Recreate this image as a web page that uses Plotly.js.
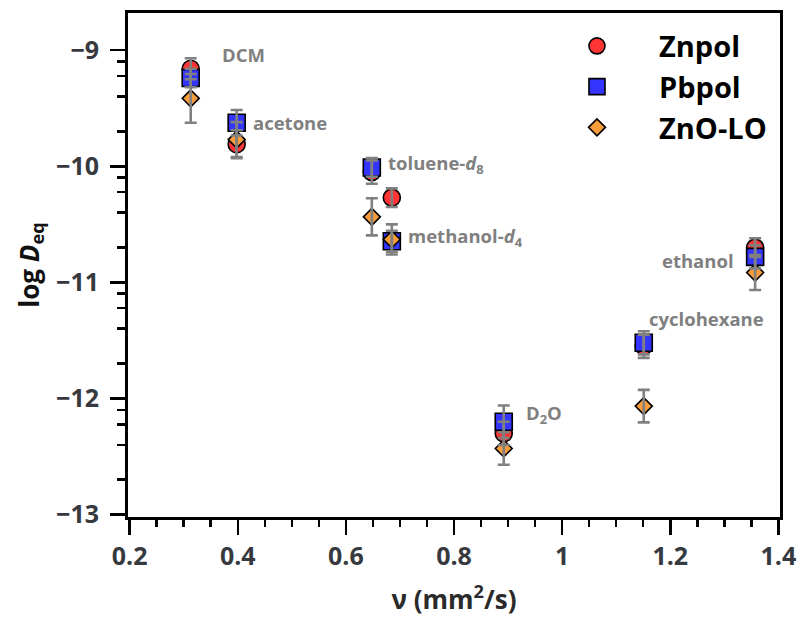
<!DOCTYPE html>
<html><head><meta charset="utf-8">
<script src="https://cdn.plot.ly/plotly-3.0.1.min.js"></script>
<style>html,body{margin:0;padding:0;background:#fff}</style>
</head><body><div id="plot" style="width:799px;height:623px"></div>
<script>
// solvents: DCM, acetone, toluene-d8, methanol-d4, D2O, cyclohexane, ethanol
const solvents = ["DCM","acetone","toluene-d8","methanol-d4","D2O","cyclohexane","ethanol"];
const viscosity = [0.313, 0.398, 0.648, 0.685, 0.892, 1.151, 1.357];
const znpolY   = [-9.16, -9.81, -10.05, -10.27, -12.30, -11.55, -10.70];
const znpolErr = [0.09, 0.12, 0.10, 0.08, 0.10, 0.10, 0.08];
const pbpolY   = [-9.24, -9.625, -10.01, -10.645, -12.20, -11.52, -10.78];
const pbpolErr = [0.08, 0.11, 0.08, 0.09, 0.14, 0.10, 0.10];
const znoY     = [-9.415, -9.77, -10.435, -10.63, -12.43, -12.065, -10.915];
const znoErr   = [0.21, 0.15, 0.16, 0.13, 0.14, 0.14, 0.15];
const xTickVals = [0.2, 0.4, 0.6, 0.8, 1, 1.2, 1.4];
const xTickText = ["0.2","0.4","0.6","0.8","1","1.2","1.4"];
const yTickVals = [-13, -12, -11, -10, -9];
const yTickText = ["\u221213","\u221212","\u221211","\u221210","\u22129"];
const labelText = ["DCM","acetone","toluene-<i>d</i><sub>8</sub>","methanol-<i>d</i><sub>4</sub>","D<sub>2</sub>O","cyclohexane","ethanol"];
const labelX = [0.367, 0.424, 0.674, 0.711, 0.929, 1.378, 1.322];
const labelY = [-9.04, -9.62, -9.98, -10.61, -12.13, -11.31, -10.815];
const labelAnchor = ["left","left","left","left","left","right","right"];

const yMinor = [];
for (let d = -13; d < -9; d++) { [2,4,6,8].forEach(k => yMinor.push(d + Math.log10(k))); }

const errStyle = {color:'#808080', thickness:2.6, width:6};
const lineBlk = {color:'#000', width:1.6};
function markerTrace(name, y, symbol, size, color){
  return {x: viscosity, y: y, name: name, type:'scatter', mode:'markers',
    marker:{symbol:symbol, size:size, color:color, line:lineBlk}};
}
function errTrace(y, err){
  return {x: viscosity, y: y, type:'scatter', mode:'markers', showlegend:false, hoverinfo:'skip',
    marker:{size:1, opacity:0}, error_y:Object.assign({type:'data', array:err, visible:true}, errStyle)};
}
const data = [
  markerTrace('Znpol', znpolY, 'circle', 17, '#ff3434'),
  markerTrace('Pbpol', pbpolY, 'square', 17, '#3434ff'),
  markerTrace('ZnO-LO', znoY, 'diamond', 13, '#f89c3c'),
  errTrace(znpolY, znpolErr), errTrace(pbpolY, pbpolErr), errTrace(znoY, znoErr)
];

const annotations = labelText.map((t,i)=>({x:labelX[i], y:labelY[i], xref:'x', yref:'y', text:t,
  showarrow:false, xanchor:labelAnchor[i], yanchor:'middle',
  font:{family:'Open Sans', size:18.5, color:'#808080', weight:700}}));

const axisCommon = {showline:true, linewidth:3, linecolor:'#000', mirror:true, showgrid:false, zeroline:false,
  ticks:'outside', ticklen:15, tickwidth:2.5, tickcolor:'#000',
  tickfont:{family:'Open Sans', size:25, color:'#363a3f', weight:700}};

const layout = {
  width:799, height:623, margin:{l:128, r:19, t:13, b:106},
  paper_bgcolor:'#fff', plot_bgcolor:'#fff', showlegend:true,
  xaxis: Object.assign({}, axisCommon, {range:[0.197, 1.403], tickmode:'array', tickvals:xTickVals, ticktext:xTickText,
    minor:{dtick:0.05, tick0:0, ticks:'outside', ticklen:7, tickwidth:2.5, tickcolor:'#000'},
    title:{text:'\u03bd (mm<sup>2</sup>/s)', font:{family:'Open Sans', size:26, color:'#2a2a2a', weight:700}, standoff:20}}),
  yaxis: Object.assign({}, axisCommon, {range:[-13.02, -8.68], tickmode:'array', tickvals:yTickVals, ticktext:yTickText,
    ticklabelstandoff:6,
    minor:{tickmode:'array', tickvals:yMinor, ticks:'outside', ticklen:8, tickwidth:2.5, tickcolor:'#000'},
    title:{text:'log <i>D</i><sub>eq</sub>', font:{family:'Open Sans', size:26, color:'#111', weight:700}, standoff:10}}),
  legend:{x:0.6242, y:0.985, xanchor:'left', yanchor:'top', bgcolor:'rgba(0,0,0,0)', itemwidth:114,
    font:{family:'Open Sans', size:29, color:'#000', weight:700}},
  annotations: annotations
};
Plotly.newPlot('plot', data, layout, {displayModeBar:false, staticPlot:true});
</script></body></html>
